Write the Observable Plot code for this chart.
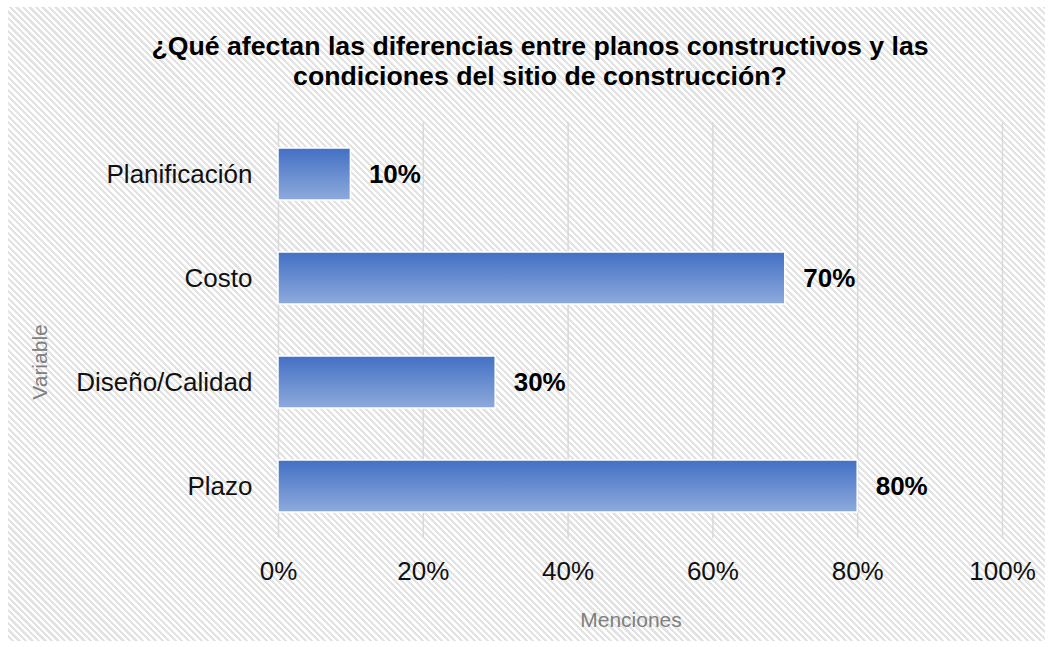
<!DOCTYPE html>
<html>
<head>
<meta charset="utf-8">
<script src="https://cdn.jsdelivr.net/npm/d3@7"></script>
<script src="https://cdn.jsdelivr.net/npm/@observablehq/plot@0.6"></script>
<style>
  html, body { margin: 0; padding: 0; background: #fff; }
  #wrap { position: relative; width: 1052px; height: 647px; overflow: hidden; font-family: "Liberation Sans", Arial, sans-serif; }
  #bg { position: absolute; left: 8px; top: 7px; width: 1037px; height: 634px;
        background: repeating-linear-gradient(45deg, #ffffff 0px, #ffffff 2.4px, #e3e3e3 2.4px, #e3e3e3 4.6px); }
  #chart { position: absolute; left: 0; top: 0; }
  #title { position: absolute; left: 0; width: 1080px; top: 31px; text-align: center; font-weight: bold; font-size: 26.7px; line-height: 30px; color: #000; white-space: nowrap; }
  #xlab { position: absolute; left: 531px; width: 200px; top: 608px; text-align: center; font-size: 21px; line-height: 24px; color: #808080; }
  #ylab { position: absolute; left: 40px; top: 362px; transform: translate(-50%, -50%) rotate(-90deg); font-size: 21px; line-height: 24px; color: #808080; white-space: nowrap; }
</style>
</head>
<body>
<div id="wrap">
  <div id="bg"></div>
  <div id="chart"></div>
  <div id="title">¿Qué afectan las diferencias entre planos constructivos y las<br>condiciones del sitio de construcción?</div>
  <div id="xlab">Menciones</div>
  <div id="ylab">Variable</div>
</div>
<script>
const categories = ["Planificación", "Costo", "Diseño/Calidad", "Plazo"];
const values = [0.10, 0.70, 0.30, 0.80];
const xTicks = [0, 0.2, 0.4, 0.6, 0.8, 1.0];

const data = categories.map((c, i) => ({ category: c, value: values[i] }));

function gradientDefs() {
  const ns = "http://www.w3.org/2000/svg";
  const defs = document.createElementNS(ns, "defs");
  const lg = document.createElementNS(ns, "linearGradient");
  lg.setAttribute("id", "barGrad");
  lg.setAttribute("x1", "0"); lg.setAttribute("y1", "0");
  lg.setAttribute("x2", "0"); lg.setAttribute("y2", "1");
  [["0%", "#4270c4"], ["100%", "#8eaadc"]].forEach(([o, c]) => {
    const s = document.createElementNS(ns, "stop");
    s.setAttribute("offset", o); s.setAttribute("stop-color", c);
    lg.appendChild(s);
  });
  defs.appendChild(lg);
  return defs;
}

const chart = Plot.plot({
  width: 1052,
  height: 647,
  marginLeft: 278,
  marginRight: 50,
  marginTop: 122,
  marginBottom: 109,
  style: { background: "transparent", fontFamily: "'Liberation Sans', Arial, sans-serif", fontSize: "26px", color: "#000", overflow: "visible" },
  x: { domain: [0, 1], ticks: xTicks, tickFormat: d3.format(".0%"), label: null },
  y: { domain: categories, paddingInner: 0.5, paddingOuter: 0.25, label: null },
  marks: [
    gradientDefs,
    Plot.gridX(xTicks, { stroke: "#d9d9d9", strokeOpacity: 1, strokeWidth: 1.5 }),
    Plot.axisX({ ticks: xTicks, tickFormat: d3.format(".0%"), tickSize: 0, tickPadding: 23, fontSize: 26, fill: "#111", label: null }),
    Plot.axisY({ tickSize: 0, tickPadding: 26, fontSize: 26, fill: "#111", label: null }),
    Plot.barX(data, { x: "value", y: "category", fill: "url(#barGrad)", stroke: "#ffffff", strokeWidth: 1.5 }),
    Plot.text(data, { x: "value", y: "category", text: d => d3.format(".0%")(d.value), dx: 18, textAnchor: "start", fontWeight: "bold", fontSize: 26, fill: "#000" })
  ]
});

document.getElementById("chart").appendChild(chart);
</script>
</body>
</html>
